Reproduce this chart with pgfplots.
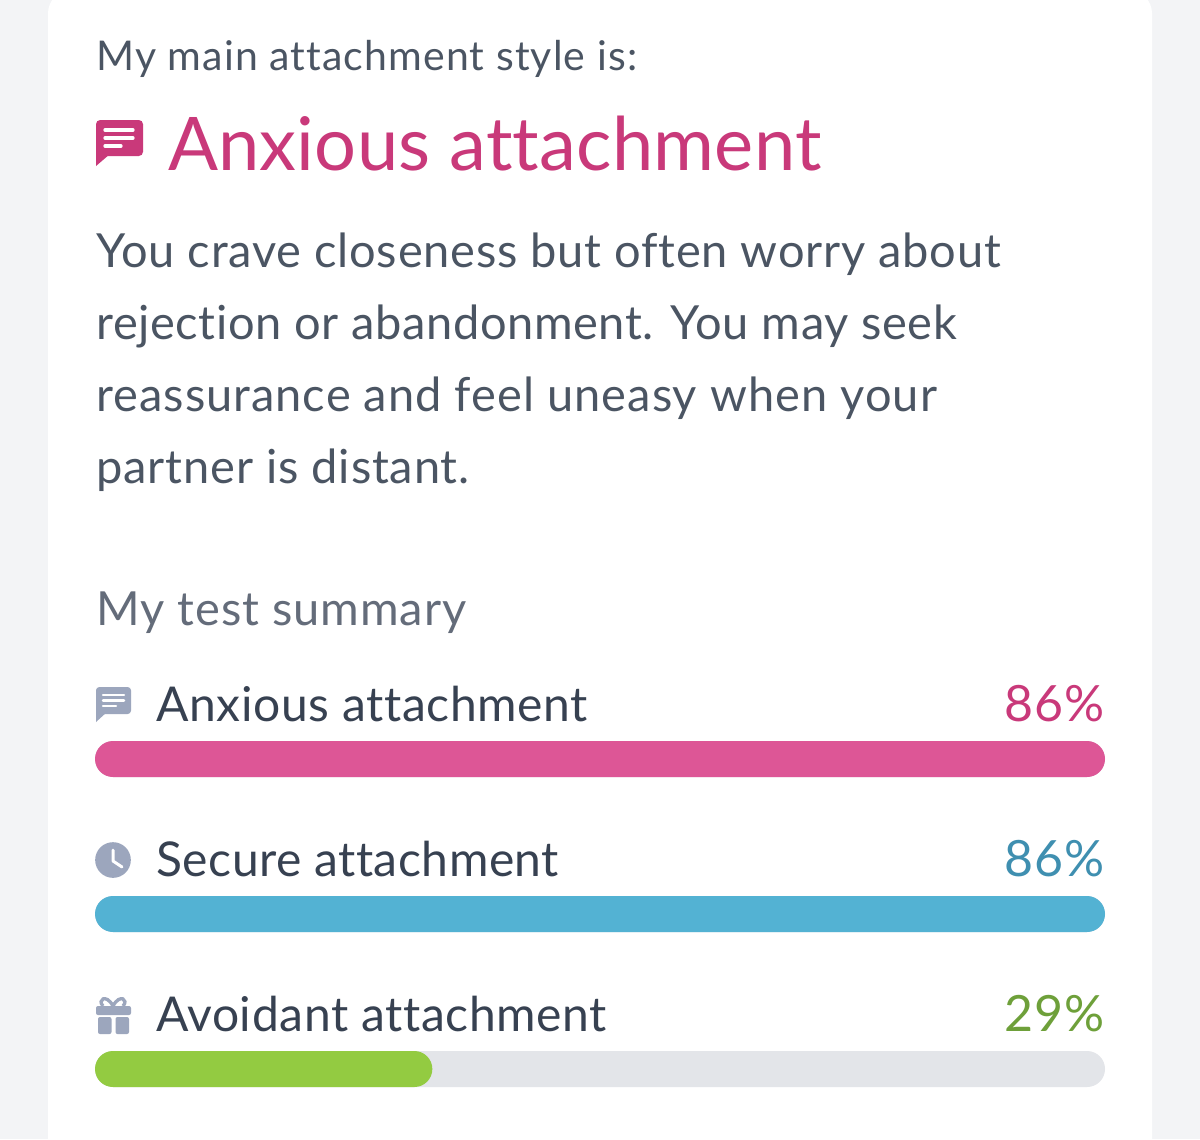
\documentclass[border=0pt]{standalone}
\usepackage{pgfplots}
\usepackage{fontspec}
\pgfplotsset{compat=1.18}
\setmainfont{Lato}[Ligatures=CommonOff]
\definecolor{pagebg}{HTML}{F3F4F6}
\definecolor{headgray}{HTML}{4B5563}
\definecolor{subgray}{HTML}{646C7A}
\definecolor{labeldark}{HTML}{374151}
\definecolor{titlepink}{HTML}{C9397A}
\definecolor{barpink}{HTML}{DD5696}
\definecolor{barblue}{HTML}{53B2D3}
\definecolor{bargreen}{HTML}{93CB41}
\definecolor{track}{HTML}{E3E5E9}
\definecolor{pctblue}{HTML}{3F8FB0}
\definecolor{pctgreen}{HTML}{6EA03A}
\definecolor{icongray}{HTML}{9CA6BD}
% px = 0.6pt
\newcommand{\pxfont}[2]{\fontsize{\fpeval{#1*0.6}pt}{\fpeval{#1*0.72}pt}\selectfont\addfontfeature{LetterSpace=#2}}
\begin{document}
\begin{tikzpicture}
\clip (0,0) rectangle (720pt,683.4pt);
\begin{axis}[
  at={(0pt,0pt)}, anchor=south west,
  scale only axis, width=720pt, height=683.4pt,
  xmin=0, xmax=1200, ymin=0, ymax=1139, y dir=reverse,
  hide axis, clip=false]
  \fill[pagebg] (0,0) rectangle (1200,1139);
  \fill[white, rounded corners=14pt] (48,-10) rectangle (1152,1200);
  \node[anchor=base west, text=headgray, inner sep=0pt] at (96,70) {\pxfont{41}{2.7}My main attachment style is:};
  \node[anchor=base west, text=titlepink, inner sep=0pt] at (168,170) {\pxfont{74}{0.25}Anxious attachment};
  \node[anchor=base west, text=headgray, inner sep=0pt] at (96,267) {\pxfont{47}{1.7}You crave closeness but often worry about};
  \node[anchor=base west, text=headgray, inner sep=0pt] at (96,339) {\pxfont{47}{1.3}rejection or abandonment. You may seek};
  \node[anchor=base west, text=headgray, inner sep=0pt] at (96,411) {\pxfont{47}{2.15}reassurance and feel uneasy when your};
  \node[anchor=base west, text=headgray, inner sep=0pt] at (96,483) {\pxfont{47}{1.85}partner is distant.};
  \node[anchor=base west, text=subgray, inner sep=0pt] at (96,625) {\pxfont{47}{2.0}My test summary};
  \node[anchor=base west, text=labeldark, inner sep=0pt] at (156,721) {\pxfont{48}{1.26}Anxious attachment};
  \node[anchor=base west, text=labeldark, inner sep=0pt] at (156,876) {\pxfont{48}{1.05}Secure attachment};
  \node[anchor=base west, text=labeldark, inner sep=0pt] at (156,1031) {\pxfont{48}{1.25}Avoidant attachment};
  \node[anchor=base east, text=titlepink, inner sep=0pt] at (1104.5,721) {\pxfont{50}{1.5}86\%};
  \node[anchor=base east, text=pctblue, inner sep=0pt] at (1104.5,876) {\pxfont{50}{1.5}86\%};
  \node[anchor=base east, text=pctgreen, inner sep=0pt] at (1104.5,1031) {\pxfont{50}{1.5}29\%};
  % title icon
  \fill[titlepink, rounded corners=2.5pt] (96,120) rectangle (143,156);
  \fill[titlepink] (96,150) -- (96,166) -- (110,154) -- cycle;
  \draw[white, line width=2pt, line cap=round] (105,130) -- (133,130) (105,138) -- (133,138) (105,146) -- (121,146);
  % small chat icon
  \fill[icongray, rounded corners=2pt] (96,687) rectangle (131,714);
  \fill[icongray] (96,708) -- (96,722) -- (107,712) -- cycle;
  \draw[white, line width=1.5pt, line cap=round] (103,695) -- (124,695) (103,700.5) -- (124,700.5) (103,706) -- (116,706);
  % clock icon
  \fill[icongray] (113,860) circle[radius=10.7pt];
  \draw[white, line width=1.8pt, line cap=round, line join=round] (113,850) -- (113,861) -- (122,867);
  % gift icon
  \draw[icongray, line width=2pt] (113,1006) .. controls (106,993) and (97,1000) .. (103,1006);
  \draw[icongray, line width=2pt] (113,1006) .. controls (120,993) and (129,1000) .. (123,1006);
  \fill[icongray, rounded corners=1.2pt] (96,1006) rectangle (131,1015);
  \fill[icongray, rounded corners=1.2pt] (98,1017) rectangle (111.5,1034);
  \fill[icongray, rounded corners=1.2pt] (115.5,1017) rectangle (129,1034);
\end{axis}
\begin{axis}[
  at={(57pt,0pt)}, anchor=south west,
  scale only axis, width=606pt, height=683.4pt,
  xmin=0, xmax=100, ymin=0, ymax=1139, y dir=reverse,
  hide axis, clip=false,
  xbar, bar shift=0pt, bar width=21.6pt,
  every axis plot/.append style={draw=none, rounded corners=10.8pt}]
  \addplot[fill=track] coordinates {(100,759) (100,914) (100,1069)};
  \addplot[fill=barpink] coordinates {(100,759)};
  \addplot[fill=barblue] coordinates {(100,914)};
  \addplot[fill=bargreen] coordinates {(33.4,1069)};
\end{axis}
\end{tikzpicture}
\end{document}
